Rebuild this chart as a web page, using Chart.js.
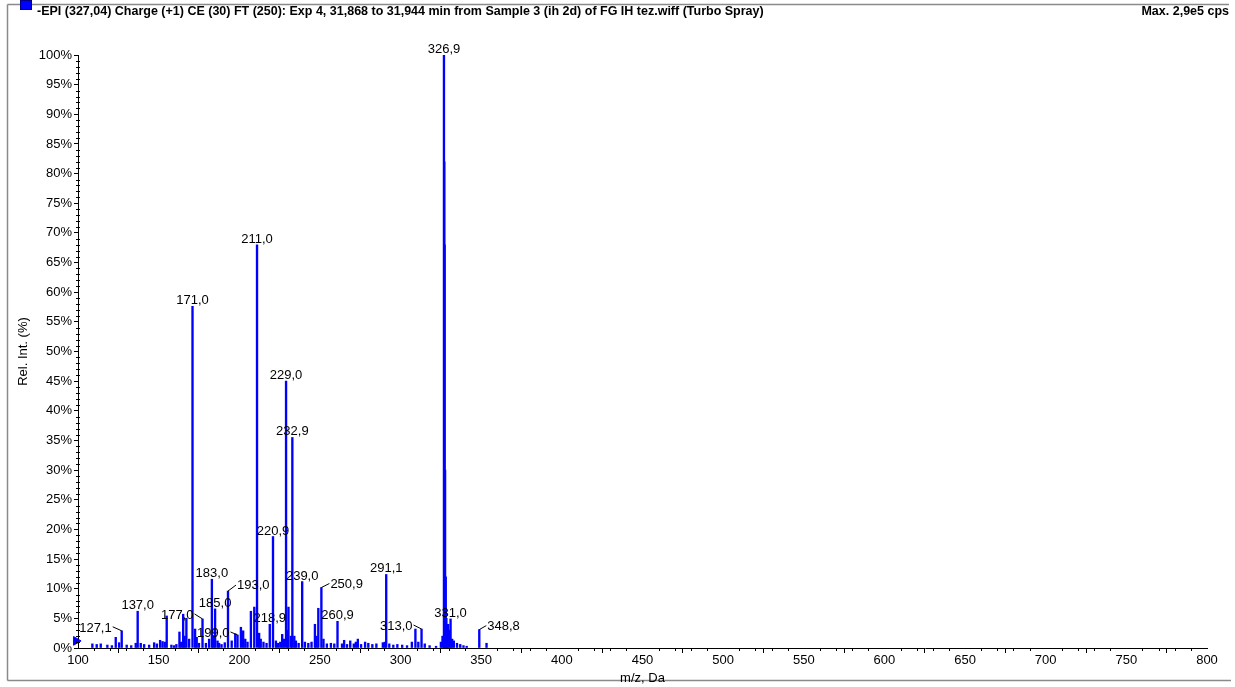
<!DOCTYPE html>
<html>
<head>
<meta charset="utf-8">
<script src="https://cdn.jsdelivr.net/npm/chart.js@4"></script>
<style>
  html, body { margin: 0; padding: 0; background: #fff; }
  canvas { display: block; }
</style>
</head>
<body>
<canvas id="spectrum" width="1235" height="687"></canvas>
<script>
// spectrum data (m/z and relative intensity in %)
const mzValues = [
  108.9, 111.6, 114.1, 118.2, 121.0, 123.4, 125.5, 127.1, 130.2, 133.0,
  135.8, 137.0, 138.9, 141.0, 144.1, 147.2, 148.9, 150.9, 152.4, 153.8,
  155.0, 157.9, 159.6, 161.0, 162.9, 164.0, 165.2, 166.1, 167.2, 168.9,
  171.0, 172.6, 173.6, 175.0, 177.2, 179.3, 181.3, 183.0, 184.0, 185.0,
  186.5, 187.5, 189.0, 191.0, 193.0, 195.3, 197.5, 198.9, 201.0, 202.4,
  203.7, 205.1, 207.2, 209.3, 211.0, 212.3, 213.3, 215.0, 216.9, 218.9,
  220.9, 222.7, 223.9, 225.4, 226.6, 227.8, 229.0, 229.9, 230.5, 232.0,
  232.9, 234.1, 235.1, 236.8, 239.0, 240.7, 242.8, 244.8, 246.9, 247.9,
  249.0, 250.9, 252.2, 254.3, 256.8, 258.9, 260.9, 263.7, 265.0, 266.8,
  268.8, 271.0, 272.3, 273.5, 275.5, 278.0, 280.0, 282.5, 285.0, 289.0,
  290.2, 291.1, 293.0, 295.5, 298.0, 301.0, 304.0, 307.0, 309.2, 311.0,
  313.0, 315.0, 318.0, 322.0, 325.0, 326.0, 326.9, 327.1, 327.3, 327.6,
  328.0, 328.4, 328.9, 329.5, 330.3, 331.0, 332.0, 333.0, 335.0, 337.0,
  339.0, 341.0, 348.8, 353.3
];
const relIntensity = [
  0.7, 0.6, 0.7, 0.5, 0.4, 1.8, 0.9, 2.9, 0.5, 0.4,
  0.8, 6.2, 0.8, 0.6, 0.5, 0.9, 0.7, 1.3, 1.1, 1.0,
  5.4, 0.5, 0.4, 0.6, 2.7, 1.0, 5.7, 2.0, 5.0, 1.5,
  57.6, 3.2, 1.8, 0.8, 4.9, 0.8, 1.5, 11.6, 2.0, 6.6,
  1.2, 0.8, 0.6, 0.9, 9.6, 1.2, 2.4, 2.2, 3.5, 2.9,
  1.5, 1.0, 6.2, 6.9, 68.0, 2.5, 1.5, 1.0, 0.8, 4.0,
  18.8, 1.2, 0.8, 1.0, 2.3, 1.5, 45.0, 3.0, 6.9, 2.0,
  35.5, 2.0, 1.2, 0.8, 11.2, 1.0, 0.8, 1.0, 4.0, 2.0,
  6.7, 10.2, 1.5, 0.7, 0.8, 0.7, 4.5, 0.7, 1.3, 0.6,
  1.2, 0.7, 1.0, 1.5, 0.6, 1.0, 0.8, 0.6, 0.7, 0.9,
  1.0, 12.4, 0.7, 0.5, 0.6, 0.5, 0.4, 1.0, 3.2, 1.0,
  3.2, 0.7, 0.4, 0.3, 1.0, 2.0, 100, 82, 68, 30,
  12, 5, 2.5, 4.0, 3.0, 4.9, 1.5, 1.2, 0.8, 0.6,
  0.4, 0.3, 3.1, 0.8
];

// peaks that carry a label
const labelledPeaks = [127.1, 137.0, 171.0, 177.2, 183.0, 185.0, 193.0, 198.9, 211.0,
  218.9, 220.9, 229.0, 232.9, 239.0, 250.9, 260.9, 291.1, 313.0, 326.9, 331.0, 348.8];
const labelTexts = ['127,1', '137,0', '171,0', '177,0', '183,0', '185,0', '193,0', '199,0', '211,0',
  '218,9', '220,9', '229,0', '232,9', '239,0', '250,9', '260,9', '291,1', '313,0', '326,9', '331,0', '348,8'];

const precursorMarker = [{ x: 98.8, y: 1.2 }];

const titleText = '-EPI (327,04) Charge (+1) CE (30) FT (250): Exp 4, 31,868 to 31,944 min from Sample 3 (ih 2d) of FG IH tez.wiff (Turbo Spray)';
const maxText = 'Max. 2,9e5 cps';

// labels with a leader line: side and offsets in px
const leaderStyle = {
  '127,1': { side: 'left', dx: 9, dy: 4 },
  '177,0': { side: 'left', dx: 8, dy: 5 },
  '199,0': { side: 'left', dx: 7, dy: 3 },
  '313,0': { side: 'left', dx: 8, dy: 4 },
  '193,0': { side: 'right', dx: 8, dy: 6 },
  '250,9': { side: 'right', dx: 8, dy: 4 },
  '348,8': { side: 'right', dx: 7, dy: 4 }
};

const FONT = '"Liberation Sans", Arial, sans-serif';

const points = mzValues.map((x, i) => ({ x: x, y: relIntensity[i] }));

const decor = {
  id: 'decor',
  beforeDraw(chart) {
    const ctx = chart.ctx;
    ctx.save();
    ctx.fillStyle = '#fff';
    ctx.fillRect(0, 0, chart.width, chart.height);
    // frame lines
    ctx.strokeStyle = '#8a8a8a';
    ctx.lineWidth = 1.5;
    ctx.beginPath();
    ctx.moveTo(7.5, 4.5); ctx.lineTo(1229, 4.5);
    ctx.moveTo(7.5, 4.5); ctx.lineTo(7.5, 680.5);
    ctx.moveTo(7.5, 680.5); ctx.lineTo(1231, 680.5);
    ctx.stroke();
    // legend swatch + header
    ctx.fillStyle = '#0000ff';
    ctx.fillRect(20, 0, 12, 10);
    ctx.strokeStyle = '#000080';
    ctx.lineWidth = 1;
    ctx.strokeRect(20.5, 0.5, 11, 9);
    ctx.fillStyle = '#000';
    ctx.font = 'bold 12.5px ' + FONT;
    ctx.textBaseline = 'alphabetic';
    ctx.textAlign = 'left';
    ctx.fillText(titleText, 37, 15);
    ctx.textAlign = 'right';
    ctx.fillText(maxText, 1229, 15);
    ctx.restore();
  },
  afterDraw(chart) {
    const ctx = chart.ctx;
    const xs = chart.scales.x, ys = chart.scales.y;
    const area = chart.chartArea;
    ctx.save();
    // minor ticks
    ctx.strokeStyle = '#000';
    ctx.lineWidth = 1;
    ctx.beginPath();
    for (let v = 0; v <= 100; v++) {
      if (v % 5 === 0) continue;
      const py = Math.round(ys.getPixelForValue(v)) + 0.5;
      ctx.moveTo(area.left - 2, py); ctx.lineTo(area.left + 2, py);
    }
    for (let v = 100; v <= 800; v += 10) {
      if (v % 50 === 0) continue;
      const px = Math.round(xs.getPixelForValue(v)) + 0.5;
      ctx.moveTo(px, area.bottom); ctx.lineTo(px, area.bottom + 3);
    }
    ctx.stroke();

    // axis titles
    ctx.fillStyle = '#000';
    ctx.font = '13px ' + FONT;
    ctx.textAlign = 'center';
    ctx.textBaseline = 'alphabetic';
    ctx.fillText('m/z, Da', (area.left + area.right) / 2, 682);
    ctx.save();
    ctx.translate(27, (area.top + area.bottom) / 2);
    ctx.rotate(-Math.PI / 2);
    ctx.fillText('Rel. Int. (%)', 0, 0);
    ctx.restore();

    // peak labels
    ctx.font = '13px ' + FONT;
    labelledPeaks.forEach((m, i) => {
      const text = labelTexts[i];
      const idx = mzValues.indexOf(m);
      const px = xs.getPixelForValue(m);
      const py = ys.getPixelForValue(relIntensity[idx]);
      const lead = leaderStyle[text];
      ctx.textBaseline = 'alphabetic';
      if (!lead) {
        ctx.textAlign = 'center';
        ctx.fillText(text, px, py - 2);
        return;
      }
      ctx.beginPath();
      ctx.strokeStyle = '#000';
      ctx.lineWidth = 1;
      if (lead.side === 'left') {
        ctx.moveTo(px - lead.dx, py - lead.dy);
        ctx.lineTo(px, py);
        ctx.stroke();
        ctx.textAlign = 'right';
        ctx.fillText(text, px - lead.dx - 1, py - lead.dy + 5);
      } else {
        ctx.moveTo(px, py);
        ctx.lineTo(px + lead.dx, py - lead.dy);
        ctx.stroke();
        ctx.textAlign = 'left';
        ctx.fillText(text, px + lead.dx + 1, py - lead.dy + 4);
      }
    });
    ctx.restore();
  }
};

new Chart(document.getElementById('spectrum'), {
  type: 'bar',
  data: {
    datasets: [{
      type: 'bar',
      data: points,
      backgroundColor: '#0000ff',
      borderWidth: 0,
      barThickness: 1.7,
      order: 2
    }, {
      type: 'scatter',
      data: precursorMarker,
      pointStyle: 'triangle',
      rotation: 90,
      radius: 5,
      backgroundColor: '#0000ff',
      borderColor: '#0000ff',
      clip: false,
      order: 1
    }]
  },
  options: {
    responsive: false,
    animation: false,
    devicePixelRatio: 1,
    layout: { padding: { left: 0, top: 55, right: 28, bottom: 0 } },
    plugins: { legend: { display: false }, tooltip: { enabled: false } },
    scales: {
      x: {
        type: 'linear',
        min: 100,
        max: 800,
        offset: false,
        afterFit: (s) => { s.height = 39; },
        ticks: { stepSize: 50, color: '#000', font: { family: FONT, size: 13 }, padding: 0, maxRotation: 0, autoSkip: false },
        grid: { drawOnChartArea: false, tickLength: 5, color: '#000' },
        border: { color: '#000' }
      },
      y: {
        min: 0,
        max: 100,
        afterFit: (s) => { s.width = 78; },
        ticks: { stepSize: 5, color: '#000', font: { family: FONT, size: 13 }, padding: 2, callback: (v) => v + '%' },
        grid: { drawOnChartArea: false, tickLength: 4, color: '#000' },
        border: { color: '#000' }
      }
    }
  },
  plugins: [decor]
});
</script>
</body>
</html>
